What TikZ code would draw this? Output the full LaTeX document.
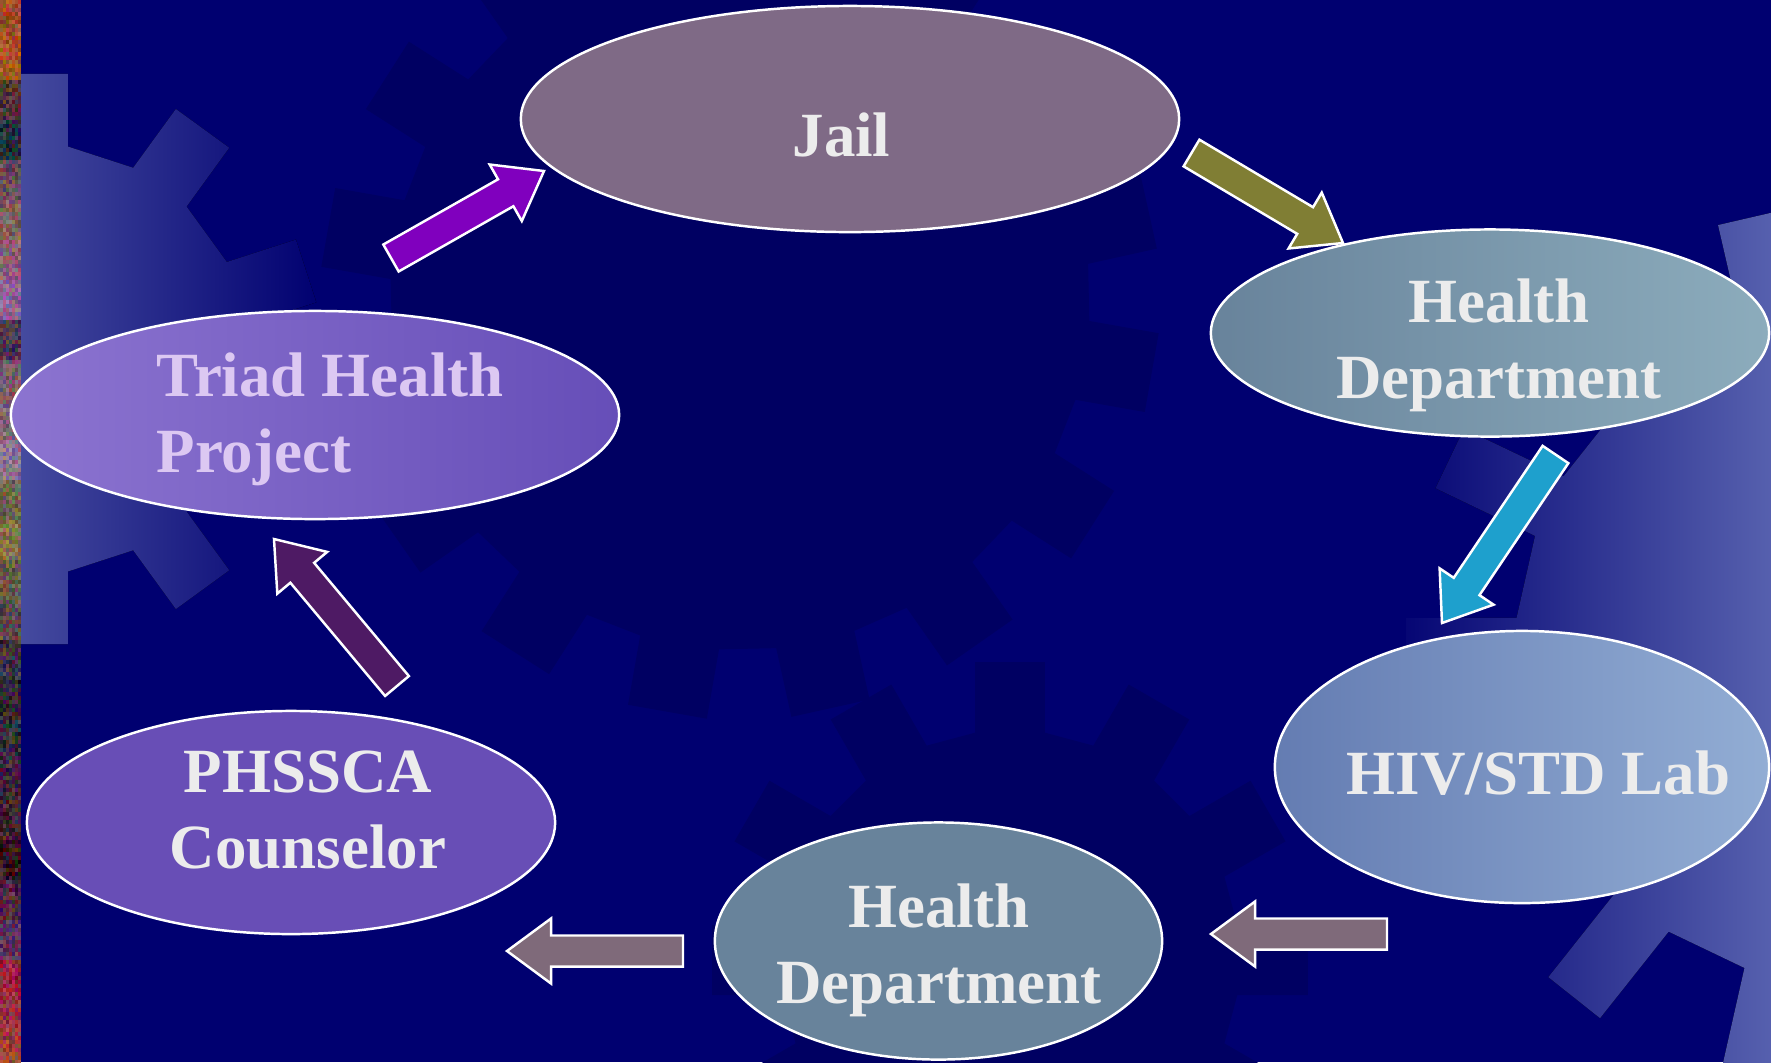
\documentclass[tikz,border=0pt]{standalone}
\usepackage{fontspec}
\setmainfont{Liberation Serif}
\usetikzlibrary{shapes.geometric,
	calc}
\definecolor{bgnavy}{RGB}{0,0,112}
\definecolor{geardark}{RGB}{0,0,98}
\definecolor{gearlite}{RGB}{74,80,162}
\definecolor{gearlitetwo}{RGB}{86,96,174}
\definecolor{jailc}{RGB}{127,106,134}
\definecolor{hdc}{RGB}{104,131,155}
\definecolor{hdlite}{RGB}{140,172,188}
\definecolor{hivleft}{RGB}{100,124,178}
\definecolor{hivright}{RGB}{146,173,212}
\definecolor{phc}{RGB}{104,78,182}
\definecolor{triadleft}{RGB}{140,116,208}
\definecolor{triadc}{RGB}{102,78,184}
\definecolor{txtgrey}{RGB}{236,236,236}
\definecolor{triadtxt}{RGB}{220,200,242}
\definecolor{arrpurple}{RGB}{128,0,190}
\definecolor{arrolive}{RGB}{128,126,52}
\definecolor{arrcyan}{RGB}{30,160,205}
\definecolor{arrmauve}{RGB}{127,106,122}
\definecolor{arrplum}{RGB}{78,26,100}
% colours of the photo strip, one entry per 40px band
\def\stripR{{0.62,0.66,0.32,0.16,0.40,0.50,0.55,0.55,0.30,0.45,0.50,0.55,0.45,0.50,0.40,0.35,0.25,0.20,0.20,0.22,0.25,0.20,0.30,0.35,0.60,0.62,0.60}}
\def\stripG{{0.30,0.34,0.20,0.18,0.30,0.38,0.38,0.40,0.20,0.35,0.40,0.45,0.40,0.45,0.35,0.30,0.20,0.15,0.17,0.15,0.12,0.08,0.15,0.20,0.15,0.20,0.25}}
\def\stripB{{0.15,0.10,0.20,0.22,0.35,0.35,0.45,0.60,0.30,0.40,0.45,0.55,0.30,0.30,0.30,0.30,0.25,0.20,0.22,0.25,0.20,0.12,0.25,0.35,0.25,0.25,0.22}}
\tikzstyle{stage}=[ellipse, draw=white, line width=0.7pt, inner sep=0]
\tikzstyle{lbl}=[text=txtgrey, font=\fontsize{17.9pt}{21.6pt}\selectfont\bfseries,
		align=center, inner sep=0]
\tikzstyle{blockarr}=[draw=white, line width=0.7pt, line join=miter]
% block arrow from tail to tip
\newcommand{\blockarrow}[3]{%
	\filldraw[blockarr, fill=#3]
		($(#1)!0.155cm!90:(#2)$)
		-- ($($(#2)!0.44cm!(#1)$)!0.155cm!90:(#2)$)
		-- ($($(#2)!0.44cm!(#1)$)!0.325cm!90:(#2)$)
		-- (#2)
		-- ($($(#2)!0.44cm!(#1)$)!0.325cm!-90:(#2)$)
		-- ($($(#2)!0.44cm!(#1)$)!0.155cm!-90:(#2)$)
		-- ($(#1)!0.155cm!-90:(#2)$)
		-- cycle;}
% teeth, inner r, outer r, tooth half width, first tooth angle
\newcommand{\gearpath}[5]{%
	({#5-asin(#4/#2)}:#2)
	\foreach \k in {1,...,#1}{
		-- ({#5+(\k-1)*360/#1-asin(#4/#2)}:#2)
		-- ({#5+(\k-1)*360/#1-asin(#4/#3)}:#3)
		-- ({#5+(\k-1)*360/#1+asin(#4/#3)}:#3)
		-- ({#5+(\k-1)*360/#1+asin(#4/#2)}:#2)
	} -- cycle}

\begin{document}
\begin{tikzpicture}[x=0.01cm, y=-0.01cm]
	\useasboundingbox (0,0) rectangle (1771,1062);
	\fill[bgnavy] (0,0) rectangle (1771,1062);
	% gears in the background
	\fill[geardark, shift={(740,300)}] \gearpath{16}{350}{420}{40}{10};
	\fill[geardark, shift={(1010,960)}] \gearpath{12}{230}{300}{35}{0};
	\begin{scope}
		\clip[shift={(35,359)}] \gearpath{10}{215}{287}{33}{-90};
		\fill[left color=gearlite, right color=bgnavy] (0,0) rectangle (320,1062);
	\end{scope}
	\begin{scope}
		\clip[shift={(1850,650)}] \gearpath{14}{335}{445}{33}{257};
		\fill[left color=bgnavy, right color=gearlitetwo] (1380,0) rectangle (1771,1062);
	\end{scope}
	% photo strip at the left edge
	\pgfmathsetseed{7}
	\foreach \r in {0,...,265}
		\foreach \c in {0,...,6} {
			\pgfmathsetmacro\tr{max(0,min(1,\stripR[int(\r/10)]+0.17*rand))}
			\pgfmathsetmacro\tg{max(0,min(1,\stripG[int(\r/10)]+0.14*rand))}
			\pgfmathsetmacro\tb{max(0,min(1,\stripB[int(\r/10)]+0.15*rand))}
			\definecolor{tilec}{rgb}{\tr,\tg,\tb}
			\fill[tilec] (\c*3,\r*4) rectangle ++(3,4);
		}

	\coordinate (t2j-tail) at (391,258);   \coordinate (t2j-tip) at (544,171);
	\coordinate (j2h-tail) at (1191.5,153); \coordinate (j2h-tip) at (1343,243);
	\coordinate (h2l-tail) at (1555.5,454.5); \coordinate (h2l-tip) at (1442,623);
	\coordinate (l2h-tail) at (1387,934);  \coordinate (l2h-tip) at (1211,934);
	\coordinate (h2p-tail) at (683,951);   \coordinate (h2p-tip) at (507,951);
	\coordinate (p2t-tail) at (397,686);   \coordinate (p2t-tip) at (274,539);
	\blockarrow{t2j-tail}{t2j-tip}{arrpurple}
	\blockarrow{j2h-tail}{j2h-tip}{arrolive}
	\blockarrow{h2l-tail}{h2l-tip}{arrcyan}
	\blockarrow{l2h-tail}{l2h-tip}{arrmauve}
	\blockarrow{h2p-tail}{h2p-tip}{arrmauve}
	\blockarrow{p2t-tail}{p2t-tip}{arrplum}

	\node[stage, fill=jailc, minimum width=6.58cm, minimum height=2.26cm] (jail) at (850,119) {};
	\node[stage, left color=hdc, middle color=hdc, right color=hdlite,
		minimum width=5.58cm, minimum height=2.07cm] (hdtop) at (1490,333) {};
	\node[stage, left color=hivleft, right color=hivright,
		minimum width=4.94cm, minimum height=2.72cm] (lab) at (1522,767) {};
	\node[stage, fill=hdc, minimum width=4.47cm, minimum height=2.37cm] (hdbot) at (938.5,941) {};
	\node[stage, fill=phc, minimum width=5.28cm, minimum height=2.23cm] (phssca) at (291,822.5) {};
	\node[stage, left color=triadleft, middle color=triadc, right color=triadc,
		minimum width=6.08cm, minimum height=2.08cm] (triad) at (315,415) {};

	\node[lbl, anchor=base] (jailtxt) at (841.5,156) {Jail};
	\node[lbl, anchor=base] (hdtoptxt) at (1499,398.5) {Health\\Department};
	\node[lbl, anchor=base] (labtxt) at (1538.5,794) {HIV/STD Lab};
	\node[lbl, anchor=base] (hdbottxt) at (939,1003) {Health\\Department};
	\node[lbl, anchor=base] (phsscatxt) at (308,868) {PHSSCA\\Counselor};
	\node[lbl, anchor=base west, align=left, text=triadtxt] (triadtxt) at (156,472) {Triad Health\\Project};
\end{tikzpicture}
\end{document}
